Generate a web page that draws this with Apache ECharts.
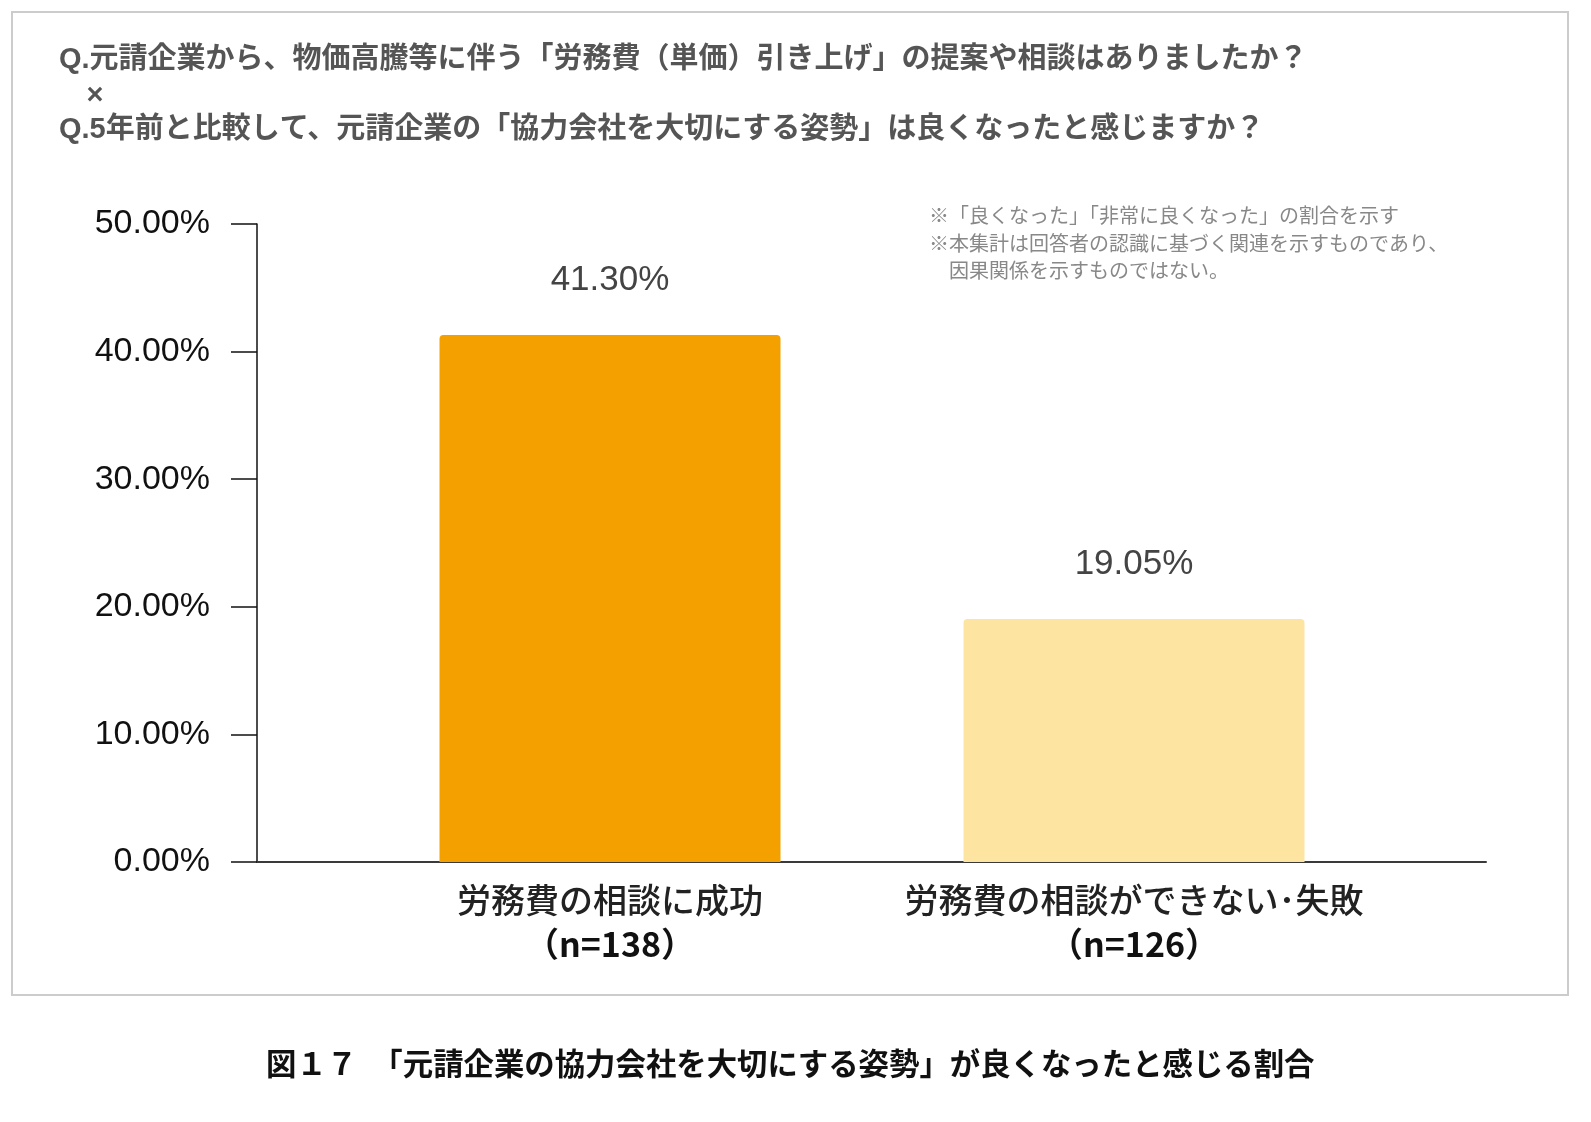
<!DOCTYPE html>
<html>
<head>
    <title>協力会社を大切にする姿勢</title>
    <meta charset="utf-8" />
    <script src="https://cdn.jsdelivr.net/npm/echarts@6/dist/echarts.min.js"></script>
    <style type="text/css">
        html,
        body {
            width: 100%;
            height: 100%;
            margin: 0;
            background: #fff;
        }

        #main {
            width: 1591px;
            height: 1122px;
        }
    </style>
</head>

<body>
    <div id="main"></div>
    <script>
        // データ
        var categories = ['労務費の相談に成功', '労務費の相談ができない･失敗'];
        var sampleSizes = [138, 126];
        var rates = [0.4130, 0.1905];
        var yMin = 0, yMax = 0.5, yStep = 0.1;

        var barColors = ['#F4A100', '#FDE5A1'];
        var latin = "'Liberation Sans', 'Noto Sans CJK JP', sans-serif";
        var cjk = "'Noto Sans CJK JP', sans-serif";

        var myChart = echarts.init(document.getElementById('main'));

        var option = {
            backgroundColor: '#fff',
            animation: false,
            grid: [
                // 軸を描くグリッド
                { left: 257, right: 105, top: 224, bottom: 260 },
                // 棒を描くグリッド
                { left: 348, right: 195, top: 224, bottom: 260 }
            ],
            xAxis: [{
                gridIndex: 0,
                type: 'category',
                data: [''],
                axisLine: { lineStyle: { color: '#3a3a3a', width: 2 } },
                axisTick: { show: false },
                axisLabel: { show: false }
            }, {
                gridIndex: 1,
                type: 'category',
                data: categories,
                axisLine: { show: false },
                axisTick: { show: false },
                axisLabel: {
                    margin: 16,
                    formatter: function (v, i) {
                        return '{a|' + v + '}\n{b|（n=' + sampleSizes[i] + '）}';
                    },
                    rich: {
                        a: { fontFamily: cjk, fontSize: 34, color: '#222', lineHeight: 44, fontWeight: 500 },
                        b: { fontFamily: cjk, fontSize: 34, color: '#111', lineHeight: 44, fontWeight: 'bold' }
                    }
                }
            }],
            yAxis: [{
                gridIndex: 0,
                type: 'value',
                min: yMin,
                max: yMax,
                interval: yStep,
                splitLine: { show: false },
                axisLine: { show: true, lineStyle: { color: '#111', width: 1.5 } },
                axisTick: { show: true, length: 26, lineStyle: { color: '#111', width: 1.5 } },
                axisLabel: {
                    margin: 47,
                    fontFamily: latin,
                    fontSize: 34,
                    color: '#111',
                    formatter: function (v) { return (v * 100).toFixed(2) + '%'; }
                }
            }, {
                gridIndex: 1,
                type: 'value',
                min: yMin,
                max: yMax,
                interval: yStep,
                show: false
            }],
            series: [{
                type: 'bar',
                xAxisIndex: 1,
                yAxisIndex: 1,
                barWidth: 341,
                data: rates.map(function (v, i) {
                    return { value: v, itemStyle: { color: barColors[i] } };
                }),
                itemStyle: { borderRadius: [4, 4, 0, 0] },
                label: {
                    show: true,
                    position: 'top',
                    distance: 37,
                    fontFamily: latin,
                    fontSize: 35,
                    color: '#444',
                    formatter: function (p) { return (p.value * 100).toFixed(2) + '%'; }
                }
            }],
            graphic: [{
                type: 'rect',
                shape: { x: 12, y: 12, width: 1556, height: 983 },
                style: { fill: 'none', stroke: '#cccccc', lineWidth: 2 },
                z: -1
            }, {
                type: 'text',
                x: 59, y: 60,
                style: {
                    text: 'Q.元請企業から、物価高騰等に伴う「労務費（単価）引き上げ」の提案や相談はありましたか？',
                    font: 'bold 29px ' + latin, fill: '#555', verticalAlign: 'middle'
                }
            }, {
                type: 'text',
                x: 95, y: 96,
                style: {
                    text: '×',
                    font: 'bold 29px ' + latin, fill: '#555', textAlign: 'center', verticalAlign: 'middle'
                }
            }, {
                type: 'text',
                x: 59, y: 130,
                style: {
                    text: 'Q.5年前と比較して、元請企業の「協力会社を大切にする姿勢」は良くなったと感じますか？',
                    font: 'bold 29px ' + latin, fill: '#555', verticalAlign: 'middle'
                }
            }, {
                type: 'text',
                x: 929, y: 202,
                style: {
                    text: '※「良くなった」「非常に良くなった」の割合を示す\n※本集計は回答者の認識に基づく関連を示すものであり、\n　因果関係を示すものではない。',
                    font: '20px ' + cjk, fill: '#888', lineHeight: 27.5
                }
            }, {
                type: 'text',
                x: 266, y: 1063,
                style: {
                    text: '図１７　「元請企業の協力会社を大切にする姿勢」が良くなったと感じる割合',
                    font: 'bold 30.4px ' + cjk, fill: '#111', verticalAlign: 'middle'
                }
            }]
        };

        myChart.setOption(option);
    </script>
</body>
</html>
